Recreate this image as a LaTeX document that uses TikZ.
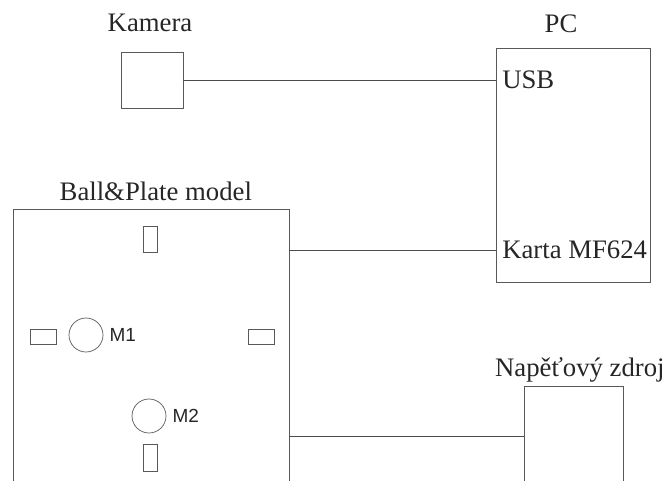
\documentclass[tikz,border=0pt]{standalone}
\usepackage{fontspec}
\setmainfont{Liberation Serif}
\newfontfamily\motorfont{Liberation Sans}
\usetikzlibrary{positioning}

\begin{document}
\begin{tikzpicture}[
  x=0.025cm, y=-0.025cm,
  box/.style={rectangle, draw=black!65, line width=0.6pt, inner sep=0pt},
  lbl/.style={font=\fontsize{19}{22}\selectfont, text=black!85, inner sep=0pt},
  sensor/.style={rectangle, draw=black!65, line width=0.5pt, inner sep=0pt},
  motor/.style={circle, draw=black!65, line width=0.5pt, minimum size=0.85cm, inner sep=0pt},
  mlbl/.style={font=\motorfont\fontsize{13.5}{16}\selectfont, text=black!85, inner sep=0pt},
  wire/.style={draw=black!70, line width=0.6pt}
]
  \useasboundingbox (0,0) rectangle (666,481);
  \clip (0,0) rectangle (666,481);

  \node[box, minimum width=1.55cm, minimum height=1.4cm] (cam) at (152,80) {};
  \node[box, minimum width=3.85cm, minimum height=5.85cm] (pc) at (573,165) {};
  \node[box, minimum width=6.9cm, minimum height=7cm] (model) at (151,349) {};
  \node[box, minimum width=2.475cm, minimum height=2.5cm] (zdroj) at (573.5,436) {};

  % Titles
  \node[lbl, above=0.5cm of cam, anchor=base, xshift=-0.05cm] (camlbl) {Kamera};
  \node[lbl, above=0.375cm of pc, anchor=base, xshift=-0.3cm] (pclbl) {PC};
  \node[lbl, above=0.19cm of model, anchor=base, xshift=0.12cm] (modellbl) {Ball\&Plate model};
  \node[lbl, above=0.22cm of zdroj, anchor=base, xshift=0.16cm] (zdrojlbl) {Napěťový zdroj};

  % PC ports
  \node[lbl, anchor=west] (usb) at (502,80) {USB};
  \node[lbl, anchor=west] (karta) at (502,250) {Karta MF624};

  % Plate sensors and motors
  \node[sensor, minimum width=0.35cm, minimum height=0.65cm] (s1) at (150,239) {};
  \node[sensor, minimum width=0.65cm, minimum height=0.375cm] (s2) at (43,336.5) {};
  \node[sensor, minimum width=0.65cm, minimum height=0.375cm] (s3) at (261.5,336.5) {};
  \node[sensor, minimum width=0.35cm, minimum height=0.67cm] (s4) at (150,457.5) {};
  \node[motor] (m1) at (86,335) {};
  \node[motor] (m2) at (149,416) {};
  \node[mlbl, right=0.15cm of m1] (m1lbl) {M1};
  \node[mlbl, right=0.15cm of m2] (m2lbl) {M2};

  % Wiring
  \draw[wire] (cam.east |- usb.west) -- (pc.west |- usb.west);
  \draw[wire] (model.east |- karta.west) -- (pc.west |- karta.west);
  \draw[wire] (model.east |- zdroj.west) -- (zdroj.west);
\end{tikzpicture}
\end{document}
